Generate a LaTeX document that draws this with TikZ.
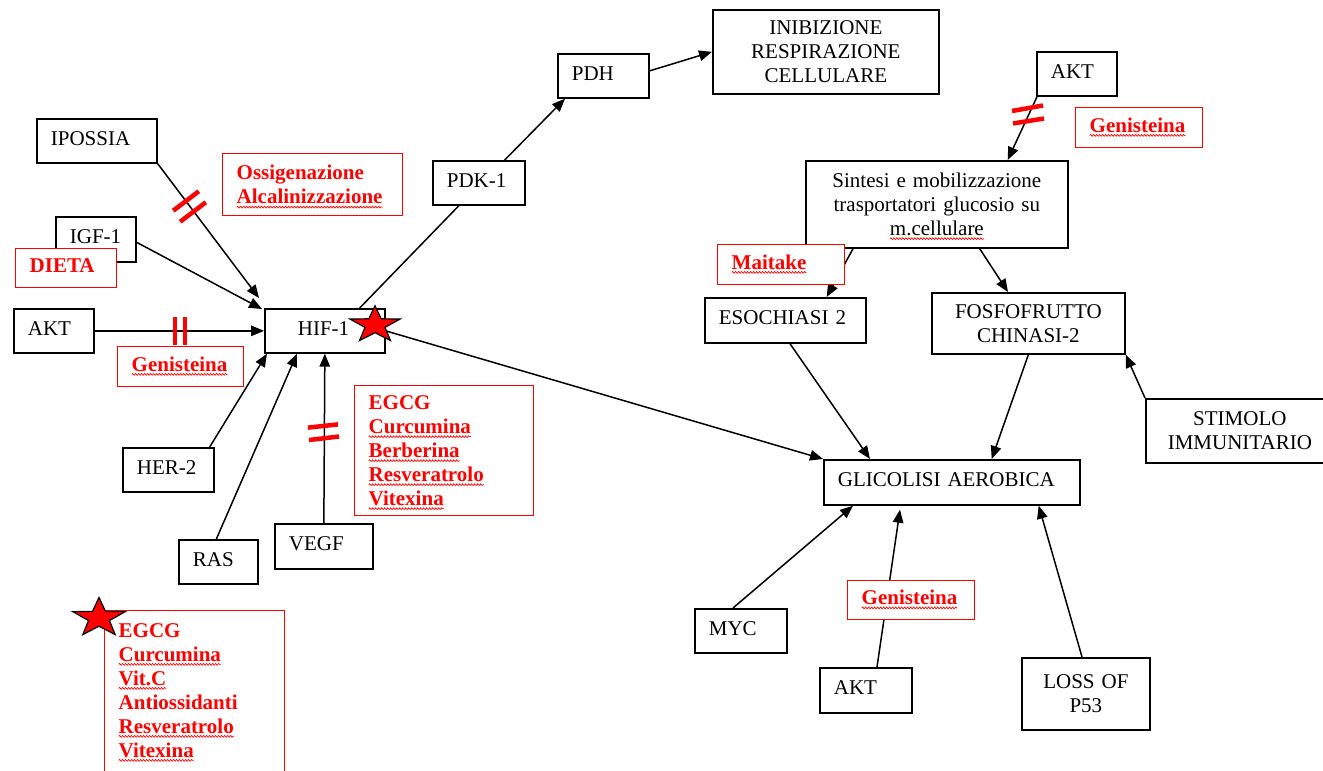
\documentclass[tikz,border=0pt]{standalone}
\usepackage{fontspec}
\setmainfont{Liberation Serif}
\usetikzlibrary{arrows.meta,decorations.pathmorphing}
\pgfdeclarelayer{bg}
\pgfsetlayers{bg,main}
\definecolor{rd}{RGB}{255,0,0}
\tikzset{
  bxbase/.style={draw=black,line width=1.7pt,fill=white,inner xsep=14pt,inner ysep=2pt,align=left,text=black,font=\fontsize{21}{24}\selectfont},
  one/.style={text height=15pt,text depth=6pt},
  ctr/.style={align=center},
  rbox/.style={draw=rd,line width=1.4pt,text=rd,font=\fontsize{21}{24}\selectfont\bfseries},
  conn/.style={line width=1.5pt,-{Triangle[length=13pt,width=10.5pt]}},
  plainln/.style={line width=1.5pt},
  inh/.style={draw=rd,line width=4.5pt},
  squigst/.style={draw=rd,line width=0.7pt,decorate,decoration={snake,amplitude=0.9pt,segment length=3pt}},
  starst/.style={fill=rd,draw=black,line width=1.2pt,line join=miter},
}
\newsavebox\sqbox
\newcommand\squig[1]{\sbox\sqbox{#1}\tikz[overlay,baseline=0pt]\draw[squigst] (0pt,-3.2pt) -- (\wd\sqbox,-3.2pt);\usebox\sqbox}
\newcommand\mybox[7][]{\pgfmathsetmacro\bxw{#5-#3-28}\pgfmathsetmacro\bxh{#6-#4}\node[bxbase,#1,anchor=north west,text width=\bxw pt,minimum height=\bxh pt] (#2) at (#3,#4) {#7};}
\newcommand\drawstar[4]{\draw[starst] ({#1},{#2-#4}) \foreach \i in {1,...,9}{ -- ({#1+(0.7+0.3*cos(180*\i))*#3*cos(90+36*\i)},{#2-(0.7+0.3*cos(180*\i))*#4*sin(90+36*\i)})} -- cycle;}
\begin{document}
\begin{tikzpicture}[x=1pt,y=-1pt]
\useasboundingbox (0,0) rectangle (1323,771);
% left side
\mybox[one]{ipo}{36}{118}{156}{162}{IPOSSIA}
\mybox[one]{igf}{55}{216}{135}{261}{IGF-1}
\mybox[one,rbox]{dieta}{15}{248}{116}{287}{DIETA}
\mybox[rbox]{oss}{222}{153}{402}{215}{Ossigenazione\\\squig{Alcalinizzazione}}
\mybox[one]{akta}{13}{308}{93}{352}{AKT}
\mybox[one]{hif}{264}{308}{384}{352}{\hspace*{19pt}HIF-1}
\mybox[one,rbox]{gena}{117}{346}{243}{386}{\squig{Genisteina}}
\mybox[one]{her}{122}{447}{213}{491}{HER-2}
\mybox[one]{ras}{178}{539}{257}{583}{RAS}
\mybox[one]{vegf}{274}{523}{372}{568}{VEGF}
\mybox[rbox]{egcga}{354}{385}{533}{515}{EGCG\\\squig{Curcumina}\\\squig{Berberina}\\\squig{Resveratrolo}\\\squig{Vitexina}}
\mybox[rbox]{egcgb}{104}{610}{284}{793}{EGCG\\\squig{Curcumina}\\\squig{Vit.C}\\Antiossidanti\\\squig{Resveratrolo}\\\squig{Vitexina}\\\mbox{}}
% top middle
\mybox[one]{pdk}{432}{160}{524}{204}{PDK-1}
\mybox[one]{pdh}{557}{53}{648}{97}{PDH}
\mybox[ctr]{inib}{712}{9}{938}{93}{INIBIZIONE\\RESPIRAZIONE\\CELLULARE}
% right side
\mybox[one]{aktt}{1036}{51}{1116}{95}{AKT}
\mybox[one,rbox]{genb}{1075}{107}{1202}{147}{\squig{Genisteina}}
\mybox[ctr]{sint}{805}{160}{1067}{247}{Sintesi e mobilizzazione\\trasportatori glucosio su\\\squig{m.cellulare}}
\mybox[one,rbox]{mait}{717}{244}{844}{284}{\squig{Maitake}}
\mybox[one]{eso}{704}{297}{865}{342}{ESOCHIASI 2}
\mybox[ctr]{fos}{931}{292}{1124}{353}{FOSFOFRUTTO\\CHINASI-2}
\mybox[ctr]{stim}{1145}{398}{1333}{462}{STIMOLO\\IMMUNITARIO}
\mybox[one]{glic}{823}{459}{1079}{504}{GLICOLISI AEROBICA}
\mybox[one]{myc}{694}{608}{786}{652}{MYC}
\mybox[one,rbox]{genc}{847}{580}{974}{619}{\squig{Genisteina}}
\mybox[one]{aktc}{819}{667}{911}{712}{AKT}
\mybox[ctr]{loss}{1021}{657}{1149}{729}{LOSS OF\\P53}
% connectors
\begin{pgfonlayer}{bg}
\fill[white] (0,0) rectangle (1323,771);
\draw[conn] (ipo.south east) -- ([xshift=-5pt,yshift=10pt]hif.north west);
\draw[conn] ([yshift=-3pt]igf.east) -- ([xshift=-2pt,yshift=-1pt]hif.north west);
\draw[conn] (akta.east) -- (hif.west);
\draw[conn] ([xshift=-5pt]her.north east) -- ([xshift=3pt]hif.south west);
\draw[conn] ([xshift=-2pt]ras.north) -- ([xshift=33pt]hif.south west);
\draw[conn] (vegf.north) -- (hif.south);
\draw[conn] (hif.east) -- (glic.north west);
\draw[plainln] ([xshift=-26pt]hif.north east) -- ([xshift=-20pt]pdk.south);
\draw[conn] ([xshift=-21pt]pdk.north east) -- ([xshift=8pt]pdh.south west);
\draw[conn] ([yshift=5pt]pdh.east) -- (inib.west);
\draw[conn] ([xshift=1pt]aktt.south west) -- ([xshift=-61pt]sint.north east);
\draw[conn] ([xshift=48pt]sint.south west) -- ([xshift=-40pt]eso.north east);
\draw[conn] ([xshift=-89pt]sint.south east) -- ([xshift=77pt]fos.north west);
\draw[conn] (stim.north west) -- (fos.south east);
\draw[conn] (fos.south) -- ([xshift=-89pt]glic.north east);
\draw[conn] ([xshift=86pt]eso.south west) -- ([xshift=47pt]glic.north west);
\draw[conn] ([xshift=39pt]myc.north west) -- ([xshift=30pt]glic.south west);
\draw[conn] ([xshift=58pt]aktc.north west) -- ([xshift=77pt,yshift=-4pt]glic.south west);
\draw[conn] ([xshift=61pt]loss.north west) -- ([xshift=-42pt]glic.south east);
\end{pgfonlayer}
% inhibition marks
\draw[inh] (173.2,210.7) -- (198.8,191.3);
\draw[inh] (180.2,221.7) -- (205.8,202.3);
\draw[inh] (175,317) -- (175,345);
\draw[inh] (185,317) -- (185,345);
\draw[inh] (308,427.6) -- (338,424.4);
\draw[inh] (309,440) -- (339,436.5);
\draw[inh] (1012,111) -- (1043,105.5);
\draw[inh] (1013,123.5) -- (1044,118.5);
% stars
\drawstar{375}{325}{26.3}{19.2}
\drawstar{99}{618}{27.5}{20.5}
\end{tikzpicture}
\end{document}
